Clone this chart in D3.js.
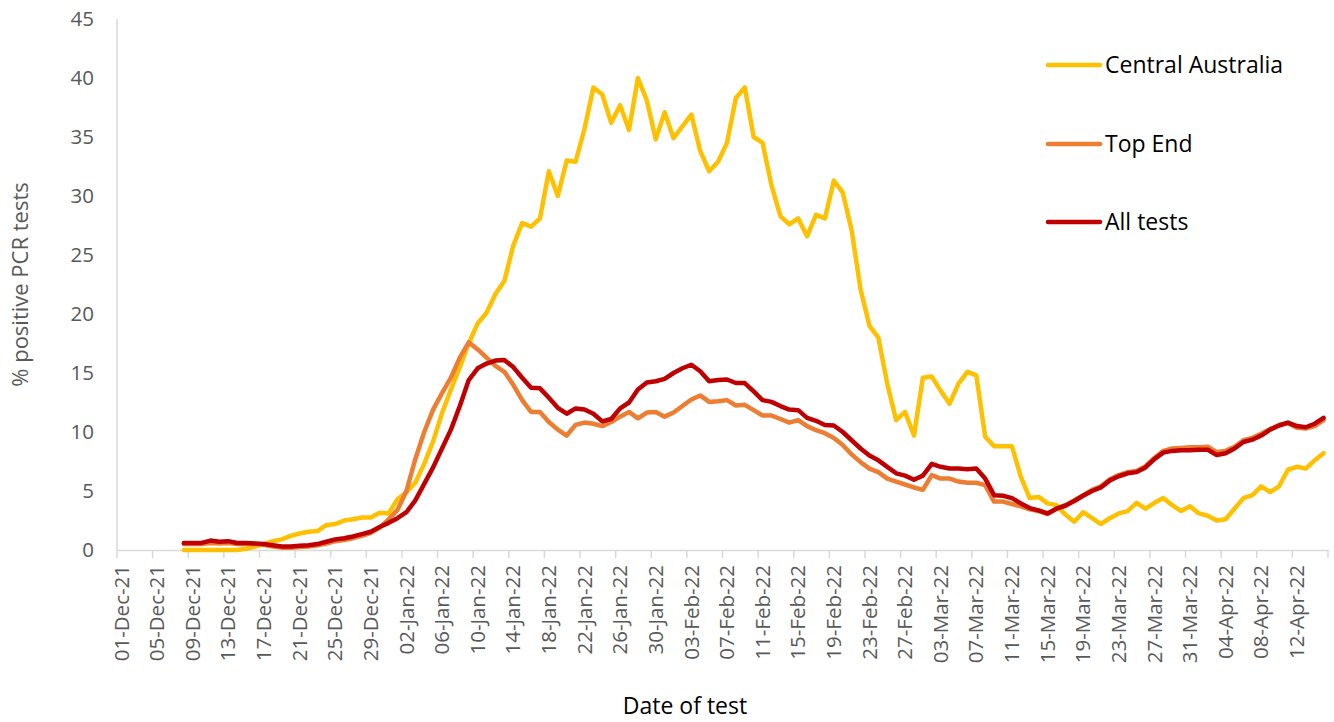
<!DOCTYPE html>
<html>
<head>
<meta charset="utf-8">
<script src="https://cdn.jsdelivr.net/npm/d3@7"></script>
<style>
  html, body { margin: 0; padding: 0; background: #ffffff; }
  svg { display: block; }
</style>
</head>
<body>
<svg id="chart" width="1334" height="722"></svg>
<script>
// ---------- data ----------
const axisStart = "2021-12-01";
const axisEnd = "2022-04-15";
const seriesStart = "2021-12-08";
const seriesNames = ["Central Australia", "Top End", "All tests"];
const seriesColors = ["#FFC000", "#ED7D31", "#C00000"];

const centralAustralia = [
  0.0, 0.0, 0.0, 0.0, 0.0, 0.0, 0.0, 0.1, 0.3, 0.5, 0.75, 0.9, 1.2, 1.4, 1.55, 1.6,
  2.1, 2.2, 2.5, 2.6, 2.75, 2.75, 3.15, 3.1, 4.3, 4.9, 5.7, 7.3, 9.2, 11.6, 13.6, 15.5,
  17.5, 19.2, 20.1, 21.7, 22.8, 25.8, 27.7, 27.4, 28.1, 32.1, 30.0, 33.0, 32.9, 35.7, 39.2, 38.6,
  36.2, 37.7, 35.6, 40.0, 38.1, 34.8, 37.1, 34.9, 35.9, 36.9, 33.8, 32.1, 32.9, 34.5, 38.3, 39.2,
  35.0, 34.5, 30.9, 28.3, 27.6, 28.1, 26.6, 28.4, 28.1, 31.3, 30.3, 27.1, 22.1, 19.0, 18.0, 14.1,
  11.0, 11.7, 9.7, 14.6, 14.7, 13.5, 12.4, 14.1, 15.1, 14.8, 9.6, 8.8, 8.8, 8.8, 6.2, 4.4,
  4.5, 3.95, 3.8, 3.0, 2.4, 3.2, 2.7, 2.2, 2.7, 3.1, 3.3, 4.0, 3.5, 4.0, 4.4, 3.8,
  3.3, 3.7, 3.1, 2.9, 2.5, 2.6, 3.5, 4.4, 4.65, 5.4, 4.9, 5.4, 6.8, 7.05, 6.9, 7.6,
  8.2
];

const topEnd = [
  0.5, 0.5, 0.5, 0.6, 0.55, 0.6, 0.5, 0.5, 0.5, 0.45, 0.3, 0.2, 0.2, 0.25, 0.3, 0.4,
  0.55, 0.75, 0.85, 1.0, 1.2, 1.45, 1.9, 2.6, 3.4, 5.0, 7.7, 10.0, 11.9, 13.3, 14.6, 16.3,
  17.6, 17.0, 16.3, 15.6, 15.1, 14.0, 12.7, 11.7, 11.7, 10.85, 10.2, 9.7, 10.6, 10.8, 10.7, 10.5,
  10.85, 11.3, 11.7, 11.15, 11.65, 11.7, 11.3, 11.65, 12.2, 12.75, 13.1, 12.55, 12.6, 12.7, 12.25, 12.3,
  11.85, 11.4, 11.4, 11.1, 10.8, 11.0, 10.5, 10.15, 9.9, 9.5, 8.9, 8.1, 7.45, 6.9, 6.6, 6.05,
  5.8, 5.55, 5.3, 5.1, 6.35, 6.05, 6.05, 5.8, 5.7, 5.7, 5.5, 4.1, 4.1, 3.9, 3.7, 3.45,
  3.3, 3.05, 3.5, 3.8, 4.2, 4.65, 5.1, 5.4, 6.0, 6.35, 6.6, 6.7, 7.1, 7.8, 8.4, 8.6,
  8.65, 8.7, 8.7, 8.75, 8.3, 8.4, 8.75, 9.3, 9.5, 9.85, 10.25, 10.6, 10.75, 10.35, 10.3, 10.5,
  11.0
];

const allTests = [
  0.6, 0.6, 0.6, 0.8, 0.7, 0.75, 0.6, 0.6, 0.55, 0.5, 0.4, 0.3, 0.3, 0.35, 0.4, 0.5,
  0.7, 0.9, 1.0, 1.15, 1.35, 1.55, 1.95, 2.3, 2.7, 3.2, 4.2, 5.6, 7.0, 8.6, 10.2, 12.2,
  14.4, 15.4, 15.8, 16.05, 16.1, 15.5, 14.6, 13.75, 13.7, 12.9, 12.05, 11.55, 12.0, 11.9, 11.55, 10.9,
  11.1, 12.0, 12.5, 13.6, 14.2, 14.3, 14.5, 15.0, 15.4, 15.7, 15.15, 14.3, 14.4, 14.45, 14.15, 14.15,
  13.45, 12.7, 12.55, 12.2, 11.9, 11.85, 11.2, 10.95, 10.6, 10.55, 10.0, 9.3, 8.6, 8.0, 7.6, 7.05,
  6.5, 6.3, 5.95, 6.3, 7.3, 7.05, 6.9, 6.9, 6.85, 6.9, 6.05, 4.65, 4.6, 4.4, 3.95, 3.55,
  3.35, 3.1, 3.5, 3.75, 4.15, 4.6, 5.0, 5.3, 5.9, 6.25, 6.5, 6.6, 7.0, 7.7, 8.25, 8.4,
  8.45, 8.45, 8.5, 8.5, 8.05, 8.2, 8.6, 9.15, 9.35, 9.7, 10.2, 10.55, 10.8, 10.5, 10.4, 10.7,
  11.2
];

const yTicks = [0, 5, 10, 15, 20, 25, 30, 35, 40, 45];
const xTitle = "Date of test";
const yTitle = "% positive PCR tests";

// ---------- layout ----------
const svg = d3.select("#chart");
const mLeft = 117, mRight = 1328, mTop = 19, mBottom = 550;
const parse = d3.timeParse("%Y-%m-%d");
const fmt = d3.timeFormat("%d-%b-%y");
const allDays = d3.timeDay.range(parse(axisStart), d3.timeDay.offset(parse(axisEnd), 1));
const categories = allDays.map(fmt);
const firstIdx = categories.indexOf(fmt(parse(seriesStart)));

const x = d3.scaleBand().domain(categories).range([mLeft, mRight]).padding(0);
const y = d3.scaleLinear().domain([0, 45]).range([mBottom, mTop]);
const bw = x.bandwidth();

const fontFam = "'Open Sans', 'Noto Sans', sans-serif";
const gray = "#595959";

// y axis line
svg.append("line")
  .attr("x1", mLeft).attr("x2", mLeft).attr("y1", mTop).attr("y2", mBottom)
  .attr("stroke", "#d9d9d9").attr("stroke-width", 1.5);

// y tick labels
const yAxis = d3.axisLeft(y).tickValues(yTicks).tickSize(0).tickPadding(23).tickFormat(d3.format("d"));
const gy = svg.append("g").attr("transform", `translate(${mLeft},0)`).call(yAxis);
gy.select(".domain").remove();
gy.selectAll("text").attr("font-family", fontFam).attr("font-size", 20.5).attr("fill", gray);

// x axis
const labelCats = categories.filter((d, i) => i % 4 === 0);
const xAxis = d3.axisBottom(x).tickValues(labelCats).tickSize(0).tickSizeOuter(0);
const gx = svg.append("g").attr("transform", `translate(0,${mBottom})`).call(xAxis);
gx.select(".domain").attr("stroke", "#d9d9d9").attr("stroke-width", 1.5);
gx.selectAll("text")
  .attr("font-family", fontFam).attr("font-size", 20.5).attr("fill", gray)
  .attr("transform", "rotate(-90)")
  .attr("text-anchor", "end")
  .attr("x", -15).attr("y", 0).attr("dy", "0.35em");
// tick marks at category boundaries
const tickPositions = labelCats.map(c => x(c)).concat([mRight]);
svg.append("g").selectAll("line").data(tickPositions).join("line")
  .attr("x1", d => d).attr("x2", d => d)
  .attr("y1", mBottom).attr("y2", mBottom + 8)
  .attr("stroke", "#d9d9d9").attr("stroke-width", 1.5);

// axis titles
svg.append("text")
  .attr("x", 685).attr("y", 714)
  .attr("text-anchor", "middle")
  .attr("font-family", fontFam).attr("font-size", 23).attr("fill", "#000")
  .text(xTitle);
svg.append("text")
  .attr("transform", `translate(28,${(mTop + mBottom) / 2}) rotate(-90)`)
  .attr("text-anchor", "middle")
  .attr("font-family", fontFam).attr("font-size", 22).attr("fill", gray)
  .text(yTitle);

// lines
const seriesData = [centralAustralia, topEnd, allTests];
const line = d3.line()
  .x((d, i) => x(categories[firstIdx + i]) + bw / 2)
  .y(d => y(d));
seriesData.forEach((vals, k) => {
  svg.append("path")
    .datum(vals)
    .attr("fill", "none")
    .attr("stroke", seriesColors[k])
    .attr("stroke-width", 4.5)
    .attr("stroke-linejoin", "round")
    .attr("stroke-linecap", "round")
    .attr("d", line);
});

// legend
const legendY = [65, 144, 222];
seriesNames.forEach((name, k) => {
  const g = svg.append("g");
  g.append("line")
    .attr("x1", 1048).attr("x2", 1100)
    .attr("y1", legendY[k]).attr("y2", legendY[k])
    .attr("stroke", seriesColors[k]).attr("stroke-width", 4.5)
    .attr("stroke-linecap", "round");
  g.append("text")
    .attr("x", 1105).attr("y", legendY[k]).attr("dy", "0.35em")
    .attr("font-family", fontFam).attr("font-size", 23).attr("fill", "#000")
    .text(name);
});
</script>
</body>
</html>
